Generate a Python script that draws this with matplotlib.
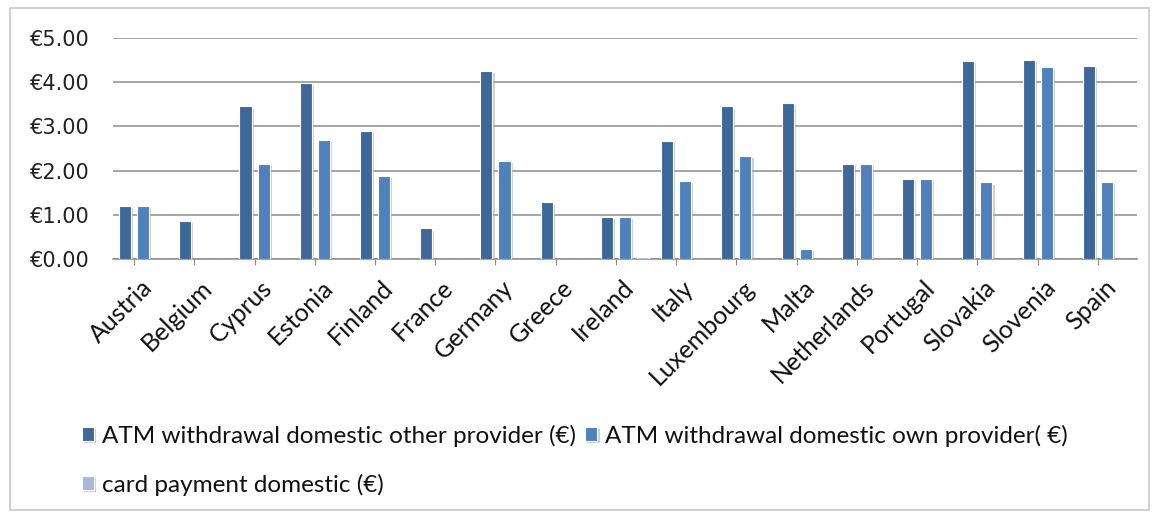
import matplotlib
import matplotlib.pyplot as plt
import matplotlib.patheffects as pe
import numpy as np
from matplotlib.patches import Rectangle
from matplotlib.ticker import FuncFormatter
from matplotlib.transforms import ScaledTranslation

matplotlib.use("Agg")

countries = ["Austria", "Belgium", "Cyprus", "Estonia", "Finland", "France",
             "Germany", "Greece", "Ireland", "Italy", "Luxembourg", "Malta",
             "Netherlands", "Portugal", "Slovakia", "Slovenia", "Spain"]
atm_other = [1.20, 0.87, 3.45, 3.97, 2.90, 0.69, 4.25, 1.28, 0.95, 2.66,
             3.45, 3.53, 2.14, 1.80, 4.48, 4.50, 4.36]
atm_own = [1.20, 0.0, 2.15, 2.69, 1.88, 0.0, 2.22, 0.0, 0.95, 1.76,
           2.34, 0.22, 2.14, 1.80, 1.73, 4.34, 1.74]
card_pay = [0.0, 0.0, 0.0, 0.0, 0.0, 0.0, 0.0, 0.0, 0.04, 0.0,
            0.0, 0.0, 0.0, 0.0, 0.0, 0.0, 0.0]
series_names = ["ATM withdrawal domestic other provider (€)",
                "ATM withdrawal domestic own provider( €)",
                "card payment domestic (€)"]
colors = ["#3F689A", "#4F81BD", "#A6B9DA"]

plt.rcParams["font.family"] = ["Lato", "DejaVu Sans"]

fig = plt.figure(figsize=(11.59, 5.2), dpi=100)
ax = fig.add_axes([0.0975, 0.502, 0.8835, 0.425])

x = np.arange(len(countries))
offsets = [-0.15, 0.15, 0.45]
shadow = [pe.SimplePatchShadow(offset=(1.5, -1.5), shadow_rgbFace="#b0b0b0", alpha=0.6),
          pe.Normal()]
handles = []
for vals, off, col, name in zip([atm_other, atm_own, card_pay], offsets, colors, series_names):
    bars = ax.bar(x + off, vals, width=0.2, color=col, edgecolor="white",
                  linewidth=0.8, label=name, zorder=3)
    for b in bars:
        b.set_path_effects(shadow)
    handles.append(bars)

ax.set_xlim(-0.35, 16.65)
ax.set_ylim(0, 5)
ax.set_yticks(np.arange(0, 5.01, 1))
ax.yaxis.set_major_formatter(FuncFormatter(lambda v, p: f"€{v:.2f}"))
ax.grid(axis="y", color="#8c8c8c", linewidth=1.1, zorder=0)
for s in ["top", "right", "left"]:
    ax.spines[s].set_visible(False)
ax.spines["bottom"].set_color("#8c8c8c")
ax.spines["bottom"].set_linewidth(1.1)
ax.tick_params(axis="y", length=0, pad=17, labelcolor="#222222")
for lbl in ax.get_yticklabels():
    lbl.set_fontfamily("DejaVu Sans")
    lbl.set_fontsize(15)
ax.set_xticks(x)
ax.set_xticklabels(countries, rotation=45, ha="right", rotation_mode="anchor",
                   fontsize=18, color="#111111")
ax.tick_params(axis="x", length=4, color="#8c8c8c", pad=8)
shift = ScaledTranslation(0.06, 0, fig.dpi_scale_trans)
for lbl in ax.get_xticklabels():
    lbl.set_transform(lbl.get_transform() + shift)

order = [handles[0], handles[2], handles[1]]
labels = [series_names[0], series_names[2], series_names[1]]
fig.legend(order, labels, loc="upper left", bbox_to_anchor=(0.052, 0.225),
           ncol=2, frameon=False, fontsize=17.5, handlelength=0.5, handleheight=0.5,
           handletextpad=0.3, columnspacing=0.4, labelspacing=1.1,
           labelcolor="#111111")

fig.patches.append(Rectangle((0.009, 0.02), 0.982, 0.965, transform=fig.transFigure,
                             fill=False, edgecolor="#c8c8c8", linewidth=1.2))

fig.savefig("out.png", dpi=100)
